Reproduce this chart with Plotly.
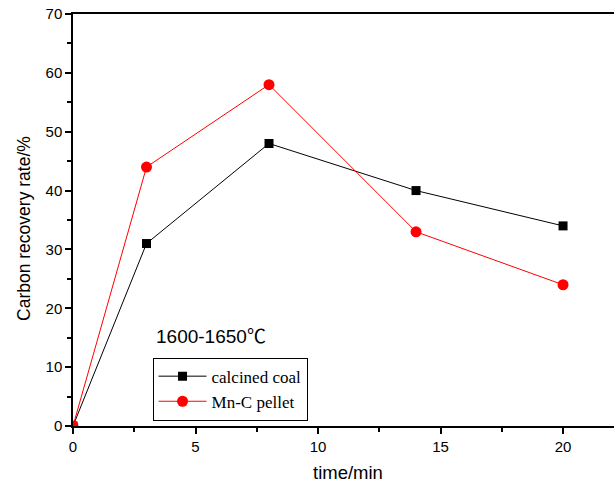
import plotly.graph_objects as go

time_min = [0, 3, 8, 14, 20]
calcined_coal = [0, 31, 48, 40, 34]
mnc_pellet = [0, 44, 58, 33, 24]

SANS = "Liberation Sans, Arial"
SERIF = "Liberation Serif, Times New Roman"

fig = go.Figure()
fig.add_trace(go.Scatter(x=time_min, y=calcined_coal, mode="lines+markers", name="calcined coal",
                         line=dict(color="black", width=1),
                         marker=dict(symbol="square", size=9, color="black")))
fig.add_trace(go.Scatter(x=time_min, y=mnc_pellet, mode="lines+markers", name="Mn-C pellet",
                         line=dict(color="red", width=1),
                         marker=dict(symbol="circle", size=11, color="red")))

fig.add_annotation(text="1600-1650<span style='font-family:Noto Sans CJK SC'>℃</span>",
                   x=0.150, y=0.223, xref="paper", yref="paper",
                   xanchor="left", yanchor="middle", showarrow=False,
                   font=dict(family=SANS, size=19, color="black"))

# axis titles placed as annotations to match reference offsets
fig.add_annotation(text="time/min", x=0.508, y=-0.114, xref="paper", yref="paper",
                   xanchor="center", yanchor="middle", showarrow=False,
                   font=dict(family=SANS, size=18.5, color="black"))
fig.add_annotation(text="Carbon recovery rate/%", x=-0.0906, y=0.4806, xref="paper", yref="paper",
                   xanchor="center", yanchor="middle", showarrow=False, textangle=-90,
                   font=dict(family=SANS, size=17.5, color="black"))

fig.update_layout(
    width=614, height=490,
    margin=dict(l=73, r=0, t=14, b=64),
    paper_bgcolor="white", plot_bgcolor="white",
    showlegend=True,
    legend=dict(x=0.147, y=0.166, xanchor="left", yanchor="top",
                bordercolor="black", borderwidth=1, bgcolor="white",
                font=dict(family=SERIF, size=17, color="black"),
                tracegroupgap=0, itemwidth=48),
    xaxis=dict(range=[0, 22.08], tickvals=[0, 5, 10, 15, 20], showgrid=False, zeroline=False,
               showline=True, linecolor="black", linewidth=1.5, mirror=True,
               ticks="outside", ticklen=6, tickwidth=1.5, tickcolor="black",
               minor=dict(tickvals=[2.5, 7.5, 12.5, 17.5], ticks="outside", ticklen=4, tickwidth=1.5, tickcolor="black"),
               tickfont=dict(family=SANS, size=15, color="black")),
    yaxis=dict(range=[0, 70], tickvals=[0, 10, 20, 30, 40, 50, 60, 70], showgrid=False, zeroline=False,
               showline=True, linecolor="black", linewidth=1.5,
               ticks="outside", ticklen=6, tickwidth=1.5, tickcolor="black",
               minor=dict(tickvals=[5, 15, 25, 35, 45, 55, 65], ticks="outside", ticklen=4, tickwidth=1.5, tickcolor="black"),
               tickfont=dict(family=SANS, size=15, color="black")),
)

fig.write_html("out.html")
